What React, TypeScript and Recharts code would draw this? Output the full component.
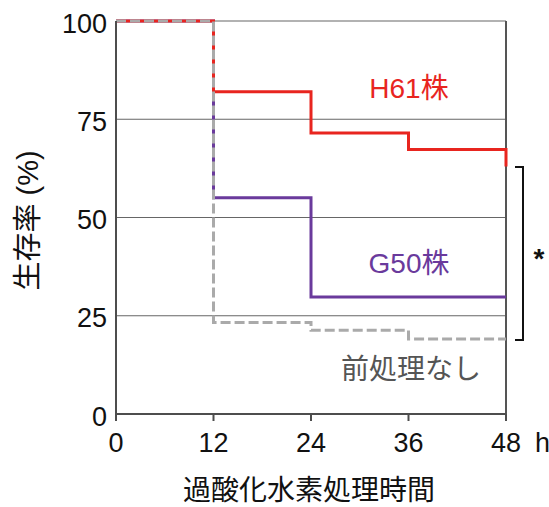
import { CartesianGrid, Label, Line, LineChart, ReferenceLine, XAxis, YAxis } from "recharts";

const hours = [0, 12, 24, 36, 48];
const h61 = [100, 82, 71.5, 67.3, 67.3];
const h61End = 63;
const g50 = [100, 55, 29.8, 29.8, 29.8];
const untreated = [100, 23.3, 21.3, 19.1, 19.1];
const yTicks = [0, 25, 50, 75, 100];

const FONT = "'Liberation Sans', 'Noto Sans CJK JP', sans-serif";

const h61Data = [
  ...hours.map((t, i) => ({ t, v: h61[i] })),
  { t: hours[hours.length - 1], v: h61End },
];
const g50Data = hours.map((t, i) => ({ t, v: g50[i] }));
const untreatedData = hours.map((t, i) => ({ t, v: untreated[i] }));

function HourTick(props: any) {
  const { x, y, payload } = props;
  const last = payload.value === hours[hours.length - 1];
  return (
    <g>
      <text x={x} y={y} dy={29} textAnchor="middle" fill="#111" fontSize={27} fontFamily={FONT}>
        {payload.value}
      </text>
      {last && (
        <text x={x + 29} y={y} dy={29} textAnchor="start" fill="#111" fontSize={27} fontFamily={FONT}>
          h
        </text>
      )}
    </g>
  );
}

export default function App() {
  return (
    <div style={{ position: "absolute", left: 0, top: 0, width: 549, height: 507, background: "#fff" }}>
      <LineChart
        width={549}
        height={507}
        margin={{ top: 21, right: 43, left: 0, bottom: 0 }}
      >
        <CartesianGrid vertical={false} stroke="#666" strokeWidth={1.2} />
        <ReferenceLine x={48} stroke="#555" strokeWidth={2} />
        <XAxis
          dataKey="t"
          type="number"
          domain={[0, 48]}
          ticks={hours}
          height={93}
          stroke="#4d4d4d"
          strokeWidth={2}
          tickSize={7}
          tick={<HourTick />}
        >
          <Label
            content={({ viewBox }: any) => (
              <text
                x={viewBox.x + viewBox.width / 2 - 2}
                y={viewBox.y + 86}
                textAnchor="middle"
                fill="#111"
                fontSize={28}
                fontFamily={FONT}
              >
                過酸化水素処理時間
              </text>
            )}
          />
        </XAxis>
        <YAxis
          type="number"
          domain={[0, 100]}
          ticks={yTicks}
          width={116}
          stroke="#4d4d4d"
          strokeWidth={2}
          tickLine={false}
          tickSize={0}
          tickMargin={9}
          tick={{ fill: "#111", fontSize: 27, fontFamily: FONT, dy: 2 }}
        >
          <Label
            content={({ viewBox }: any) => {
              const cx = viewBox.x + 28;
              const cy = viewBox.y + viewBox.height / 2 + 3;
              return (
                <text
                  x={cx}
                  y={cy}
                  transform={`rotate(-90 ${cx} ${cy})`}
                  textAnchor="middle"
                  dominantBaseline="central"
                  fill="#111"
                  fontSize={29}
                  fontFamily={FONT}
                >
                  生存率 (%)
                </text>
              );
            }}
          />
        </YAxis>
        <Line
          data={g50Data}
          dataKey="v"
          type="stepAfter"
          stroke="#6a3a9c"
          strokeWidth={3}
          dot={false}
          isAnimationActive={false}
        />
        <Line
          data={h61Data}
          dataKey="v"
          type="stepAfter"
          stroke="#e8251f"
          strokeWidth={3}
          dot={false}
          isAnimationActive={false}
        />
        <Line
          data={untreatedData}
          dataKey="v"
          type="stepAfter"
          stroke="#aaaaaa"
          strokeWidth={3}
          strokeDasharray="10 4"
          dot={false}
          isAnimationActive={false}
        />
      </LineChart>
      <svg
        width={549}
        height={507}
        style={{ position: "absolute", left: 0, top: 0, pointerEvents: "none" }}
      >
        <text x={409} y={98} textAnchor="middle" fill="#e8251f" fontSize={28} fontFamily={FONT}>
          H61株
        </text>
        <text x={409} y={273} textAnchor="middle" fill="#6a3a9c" fontSize={28} fontFamily={FONT}>
          G50株
        </text>
        <text x={411} y={379} textAnchor="middle" fill="#555" fontSize={28} fontFamily={FONT}>
          前処理なし
        </text>
        <path d="M515 167 H523 V340 H515" fill="none" stroke="#111" strokeWidth={2} />
        <text x={539} y={268} textAnchor="middle" fill="#111" fontSize={28} fontWeight="bold" fontFamily={FONT}>
          *
        </text>
      </svg>
    </div>
  );
}
